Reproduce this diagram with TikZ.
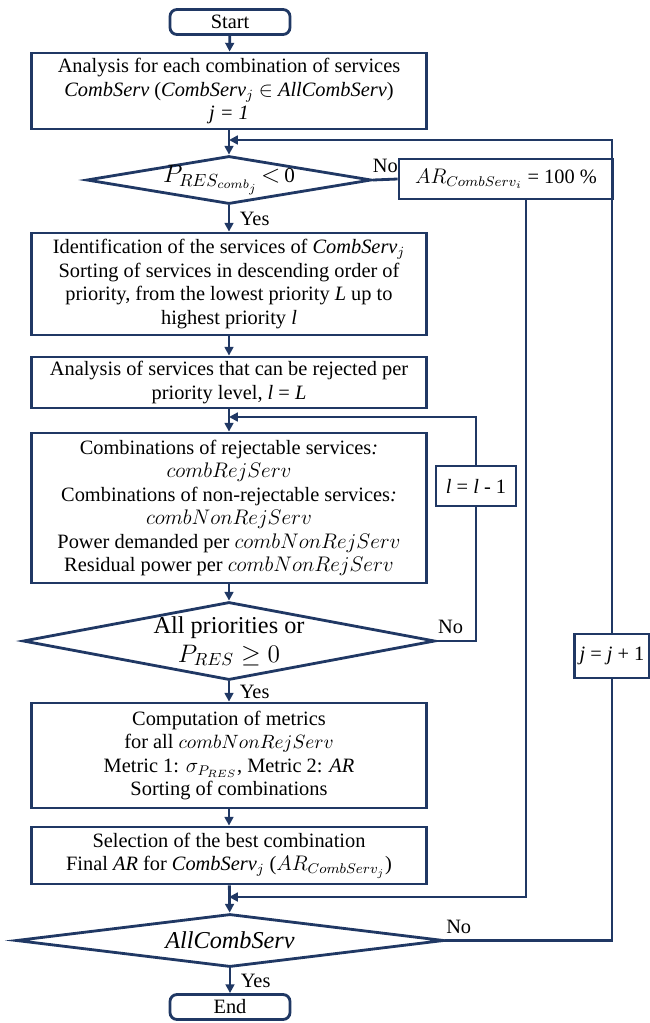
\documentclass[tikz,border=0pt]{standalone}
\usepackage{amsmath}
\usepackage{fontspec}
\setmainfont{Liberation Serif}
\setsansfont{Liberation Serif}
\usetikzlibrary{shapes.geometric,arrows.meta}
\definecolor{flowblue}{HTML}{203864}

\begin{document}
\begin{tikzpicture}[
          >={Triangle[length=5pt,width=5pt]},
          line/.style = {draw=flowblue, line width=1.6pt},
          block/.style = {draw=flowblue, line width=1.6pt, rectangle, minimum width=7.9cm, align=center, inner sep=2pt, font=\rmfamily\fontsize{11.6}{13.4}\selectfont},
          terminal/.style = {block, rounded corners=4pt, minimum width=2.4cm, minimum height=0.5cm},
          smallbox/.style = {block, minimum width=1.6cm, minimum height=0.8cm},
          decision/.style = {draw=flowblue, line width=1.6pt, diamond, inner sep=0pt},
          bigtext/.style = {align=center, font=\rmfamily\fontsize{13.8}{16.5}\selectfont},
          lbl/.style = {font=\rmfamily\fontsize{11.6}{13.4}\selectfont}
        ]
        \useasboundingbox (0,0) rectangle (12.98,-20.46);

        \node[terminal] (start) at (4.6,-0.44) {Start};
        \node[block, minimum height=1.52cm] (analysis) at (4.58,-1.82) {Analysis for each combination of services\\ \textit{CombServ} (\textit{CombServ}$_j$ $\in$ \textit{AllCombServ})\\ \textit{j = 1}};
        \node[decision, minimum width=5.7cm, minimum height=0.96cm] (dec1) at (4.58,-3.6) {};
        \node[bigtext] (dec1text) at (dec1) {$P_{RES_{comb_j}}\!<$\,{\large 0}};
        \node[block, minimum width=4.28cm, minimum height=0.8cm] (arbox) at (10.12,-3.58) {$AR_{CombServ_i}$ = 100 \%};
        \node[block, minimum height=2.04cm] (ident) at (4.58,-5.68) {Identification of the services of \textit{CombServ}$_j$\\ Sorting of services in descending order of\\ priority, from the lowest priority \textit{L} up to\\ highest priority \textit{l}};
        \node[block, minimum height=1.02cm] (rejlevel) at (4.58,-7.65) {Analysis of services that can be rejected per\\ priority level, \textit{l} = \textit{L}};
        \node[block, minimum height=3cm] (combs) at (4.58,-10.16) {Combinations of rejectable services\textit{:}\\ $combRejServ$\\ Combinations of non-rejectable services\textit{:}\\ $combNonRejServ$\\ Power demanded per $combNonRejServ$\\ Residual power per $combNonRejServ$};
        \node[smallbox] (ldown) at (9.52,-9.72) {\textit{l} = \textit{l} - 1};
        \node[decision, minimum width=8.24cm, minimum height=1.56cm] (dec2) at (4.58,-12.82) {};
        \node[bigtext] (dec2text) at (dec2) {All priorities or\\ $P_{RES}\geq 0$};
        \node[smallbox, minimum width=1.5cm, minimum height=0.88cm] (jup) at (12.24,-13.12) {\textit{j} = \textit{j} + 1};
        \node[block, minimum height=2.1cm] (metrics) at (4.58,-15.11) {Computation of metrics\\ for all {\fontsize{10.5}{13.4}\selectfont$combNonRejServ$}\\ Metric 1: $\sigma_{P_{RES}}$, Metric 2: \textit{AR}\\ Sorting of combinations};
        \node[block, minimum height=1.14cm] (select) at (4.58,-17.11) {Selection of the best combination\\ Final \textit{AR} for \textit{CombServ}$_j$ ($AR_{CombServ_j}$)};
        \node[decision, minimum width=8.56cm, minimum height=1.06cm] (dec3) at (4.6,-18.81) {};
        \node[bigtext] (dec3text) at (dec3) {\textit{AllCombServ}};
        \node[terminal] (finish) at (4.6,-20.14) {End};

        \coordinate (jin) at (4.58,-2.8);
        \coordinate (lin) at (4.58,-8.34);
        \coordinate (selin) at (4.58,-17.94);

        % main column
        \draw[line,->] (start) -- (analysis);
        \draw[line,->] (analysis) -- (dec1);
        \draw[line,->] (dec1) -- node[lbl, midway, right, xshift=2pt] {Yes} (ident);
        \draw[line,->] (ident) -- (rejlevel);
        \draw[line,->] (rejlevel) -- (combs);
        \draw[line,->] (combs) -- (dec2);
        \draw[line,->] (dec2) -- node[lbl, midway, right, xshift=2pt] {Yes} (metrics);
        \draw[line,->] (metrics) -- (select);
        \draw[line,->] (select) -- (dec3);
        \draw[line,->] (dec3) -- node[lbl, midway, right, xshift=2pt] {Yes} (finish);

        % loops
        \draw[line] (dec1.east) -- node[lbl, midway, above] {No} (arbox.west);
        \draw[line,->] ([xshift=0.4cm]arbox.south) |- (selin);
        \draw[line] (dec2.east) -| node[lbl, pos=0.18, above] {No} (ldown.south);
        \draw[line,->] (ldown.north) |- (lin);
        \draw[line] (dec3.east) -| node[lbl, pos=0.04, above] {No} (jup.south);
        \draw[line,->] (jup.north) |- (jin);
      \end{tikzpicture}
\end{document}
